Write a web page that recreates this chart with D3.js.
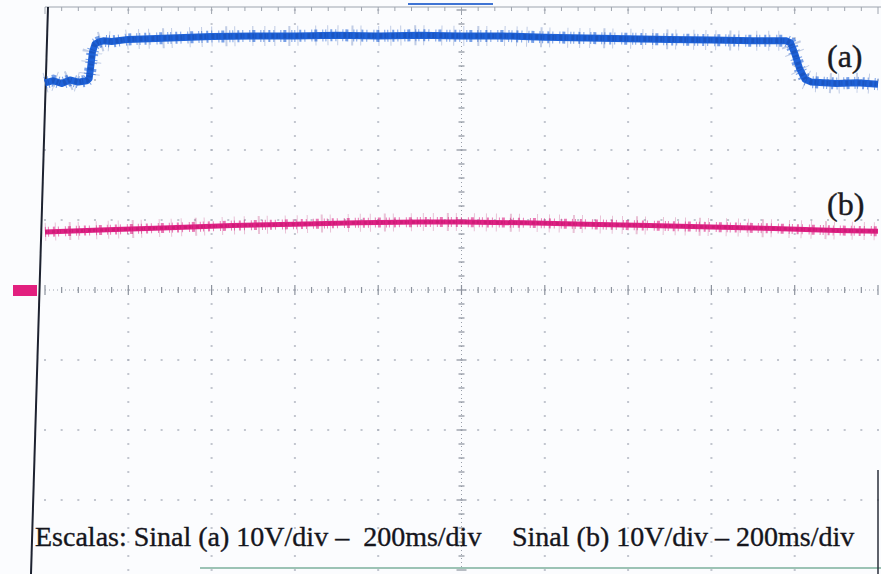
<!DOCTYPE html>
<html>
<head>
<meta charset="utf-8">
<script src="https://cdn.jsdelivr.net/npm/d3@7"></script>
<style>
  html, body { margin: 0; padding: 0; background: #fbfcfe; }
  svg { display: block; }
</style>
</head>
<body>
<svg id="scope" width="881" height="574"></svg>
<script>
// Oscilloscope capture: two channels, 10 V/div, 200 ms/div, 10 x 8 divisions.
const divisionsX = 10;
const divisionsY = 8;
const msPerDiv = 200;
const voltsPerDiv = 10;

// Channel (a): step up near 110 ms, step down near 1790 ms (time in ms, level in V on screen)
const timeA = [0, 20, 40, 60, 80, 100, 106, 110, 114, 120, 128, 140, 160, 200, 300, 400, 500, 600, 700, 800, 900,
               1000, 1100, 1200, 1300, 1400, 1500, 1600, 1700, 1780, 1790, 1800, 1812, 1825, 1840, 1870, 1900, 1950, 2000];
const levelA = [29.6, 29.9, 29.5, 30.0, 29.7, 29.9, 30.2, 32.0, 34.0, 35.1, 35.4, 35.6, 35.5, 35.8, 36.0, 36.2, 36.3, 36.3, 36.4, 36.3, 36.4,
                36.3, 36.3, 36.1, 36.0, 35.9, 35.8, 35.7, 35.6, 35.6, 35.3, 33.8, 31.6, 30.1, 29.7, 29.6, 29.5, 29.6, 29.4];

// Channel (b): slow bow peaking mid-screen
const timeB = [0, 150, 300, 450, 600, 750, 900, 1000, 1150, 1300, 1450, 1600, 1750, 1900, 2000];
const levelB = [8.3, 8.6, 8.9, 9.2, 9.4, 9.6, 9.7, 9.7, 9.6, 9.4, 9.2, 9.0, 8.8, 8.5, 8.4];

const traceLabels = ["(a)", "(b)"];
const traceLabelLevels = [29.7, 8.6];
const captionParts = ["Escalas: Sinal (a) 10V/div \u2013  200ms/div", "Sinal (b) 10V/div \u2013 200ms/div"];
const groundMarker = 0; // channel (b) ground reference in V

const svg = d3.select("#scope");
const plotLeft = 45, plotRight = 878, plotTop = 10, plotBottom = 570;

const x = d3.scaleLinear().domain([0, divisionsX * msPerDiv]).range([plotLeft, plotRight]);
const y = d3.scaleLinear()
  .domain([-divisionsY / 2 * voltsPerDiv, divisionsY / 2 * voltsPerDiv])
  .range([plotBottom, plotTop]);

const grid = svg.append("g");
const gridColor = "#a9afba";

// Dotted division lines: one dot per minor (1/5) division
const minorX = d3.range(0, divisionsX * 5 + 1).map(i => i * msPerDiv / 5);
const minorY = d3.range(0, divisionsY * 5 + 1).map(i => -divisionsY / 2 * voltsPerDiv + i * voltsPerDiv / 5);
const majorX = d3.range(1, divisionsX).map(i => i * msPerDiv);
const majorY = d3.range(1, divisionsY).map(i => -divisionsY / 2 * voltsPerDiv + i * voltsPerDiv);
const centreT = divisionsX / 2 * msPerDiv;

majorY.filter(v => v !== 0).forEach(v => {
  grid.selectAll(null).data(minorX).join("rect")
    .attr("x", d => x(d) - 1).attr("y", y(v) - 1)
    .attr("width", 2).attr("height", 2)
    .attr("fill", gridColor).attr("opacity", 0.7);
});
majorX.filter(t => t !== centreT).forEach(t => {
  grid.selectAll(null).data(minorY).join("rect")
    .attr("x", x(t) - 1).attr("y", d => y(d) - 1)
    .attr("width", 2).attr("height", 2)
    .attr("fill", gridColor).attr("opacity", 0.7);
});

// Centre axes: fine dotted line with a tick on every minor division
grid.append("line")
  .attr("x1", plotLeft).attr("x2", plotRight).attr("y1", y(0)).attr("y2", y(0))
  .attr("stroke", "#9aa0ab").attr("stroke-width", 1).attr("stroke-dasharray", "1 3");
grid.append("line")
  .attr("x1", x(centreT)).attr("x2", x(centreT)).attr("y1", plotTop).attr("y2", plotBottom)
  .attr("stroke", "#9aa0ab").attr("stroke-width", 1).attr("stroke-dasharray", "1 3");
grid.selectAll(null).data(minorX).join("line")
  .attr("x1", d => x(d)).attr("x2", d => x(d))
  .attr("y1", d => y(0) - (d % msPerDiv === 0 ? 5 : 3))
  .attr("y2", d => y(0) + (d % msPerDiv === 0 ? 5 : 3))
  .attr("stroke", "#8c929d").attr("stroke-width", 1.2);
grid.selectAll(null).data(minorY).join("line")
  .attr("y1", d => y(d)).attr("y2", d => y(d))
  .attr("x1", d => x(centreT) - (d % voltsPerDiv === 0 ? 5 : 3))
  .attr("x2", d => x(centreT) + (d % voltsPerDiv === 0 ? 5 : 3))
  .attr("stroke", "#8c929d").attr("stroke-width", 1.2);

// Top edge with ticks
grid.append("line")
  .attr("x1", plotLeft).attr("x2", 881).attr("y1", plotTop - 3).attr("y2", plotTop - 3)
  .attr("stroke", "#9ea4ae").attr("stroke-width", 1.2);
grid.selectAll(null).data(minorX).join("line")
  .attr("x1", d => x(d)).attr("x2", d => x(d))
  .attr("y1", plotTop - 3).attr("y2", d => plotTop + (d % msPerDiv === 0 ? 4 : 1))
  .attr("stroke", "#9ea4ae").attr("stroke-width", 1);

// Memory position bar
svg.append("line")
  .attr("x1", 408).attr("x2", 493).attr("y1", 4).attr("y2", 4)
  .attr("stroke", "#3f74d4").attr("stroke-width", 2);

// Bottom trace remnant
svg.append("line")
  .attr("x1", 200).attr("x2", 881).attr("y1", 568).attr("y2", 568)
  .attr("stroke", "#9cc3b5").attr("stroke-width", 2);

// Screen frame (the left bezel edge leans slightly)
svg.append("line")
  .attr("x1", 48).attr("x2", 31).attr("y1", plotTop - 3).attr("y2", 574)
  .attr("stroke", "#1d2230").attr("stroke-width", 2);
svg.append("line")
  .attr("x1", 878).attr("x2", 878).attr("y1", 470).attr("y2", 574)
  .attr("stroke", "#2a2f3a").attr("stroke-width", 1.5);

// Traces
const line = d3.line().curve(d3.curveLinear);

function drawTrace(times, levels, color, darker, width) {
  const pts = times.map((t, i) => [x(t), y(levels[i])]);
  const g = svg.append("g");
  // noisy envelope
  g.append("path").attr("d", line(pts)).attr("fill", "none")
    .attr("stroke", color).attr("stroke-width", width + 5).attr("opacity", 0.6)
    .attr("stroke-dasharray", "1 2 1 4 2 3 1 6 1 2 3 5");
  g.append("path").attr("d", line(pts)).attr("fill", "none")
    .attr("stroke", darker).attr("stroke-width", width + 13).attr("opacity", 0.25)
    .attr("stroke-dasharray", "1 9 1 13 2 7 1 17 1 11");
  // main trace
  g.append("path").attr("d", line(pts)).attr("fill", "none")
    .attr("stroke", color).attr("stroke-width", width)
    .attr("stroke-linejoin", "round");
  g.append("path").attr("d", line(pts)).attr("fill", "none")
    .attr("stroke", darker).attr("stroke-width", width - 2).attr("opacity", 0.35)
    .attr("stroke-dasharray", "2 1 1 3 3 2");
}

drawTrace(timeB, levelB, "#de2184", "#b3125f", 5);
drawTrace(timeA, levelA, "#1f62d8", "#123f9c", 7);

// Ground marker for channel (b)
svg.append("rect")
  .attr("x", 13).attr("y", y(groundMarker) - 5)
  .attr("width", 24).attr("height", 11)
  .attr("fill", "#e2207f");

// Trace labels
svg.selectAll(null).data(traceLabels).join("text")
  .attr("x", 827)
  .attr("y", (d, i) => y(traceLabelLevels[i]) - 15)
  .attr("font-family", "'Liberation Serif', 'Times New Roman', serif")
  .attr("font-size", 32)
  .attr("fill", "#1a1a22")
  .attr("stroke", "#1a1a22").attr("stroke-width", 0.4)
  .text(d => d);

// Caption
const captionX = [35, 512];
svg.selectAll(null).data(captionParts).join("text")
  .attr("x", (d, i) => captionX[i])
  .attr("y", 546)
  .attr("font-family", "'Liberation Serif', 'Times New Roman', serif")
  .attr("font-size", 28)
  .attr("fill", "#15151c")
  .attr("stroke", "#15151c").attr("stroke-width", 0.35)
  .style("white-space", "pre")
  .text(d => d);
</script>
</body>
</html>
